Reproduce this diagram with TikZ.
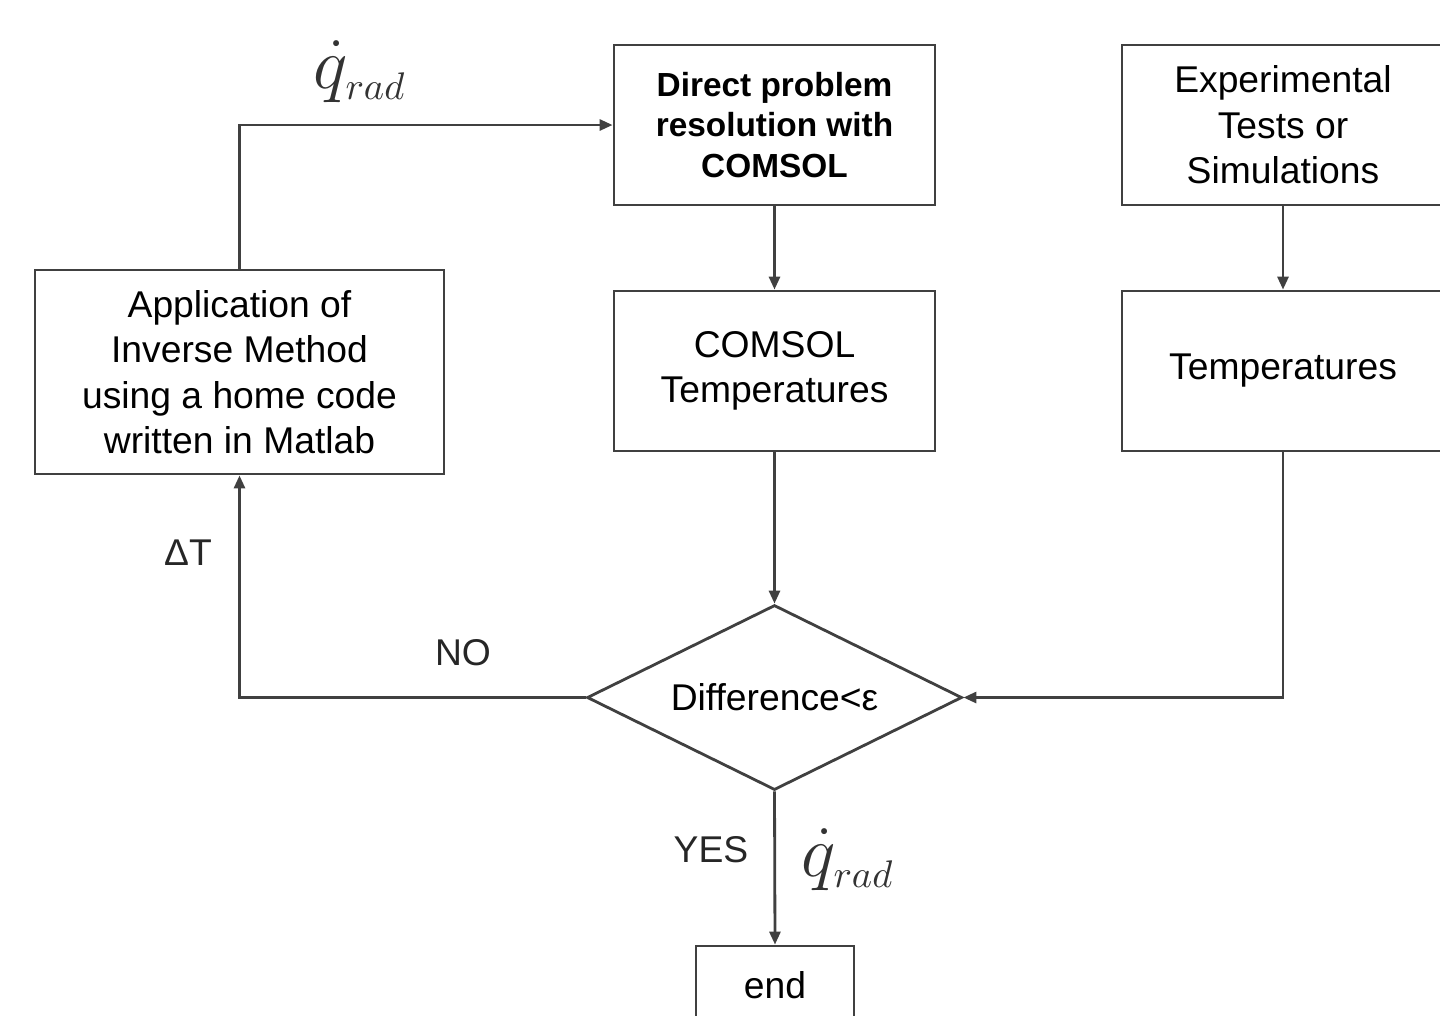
\documentclass[tikz,border=0pt]{standalone}
\usepackage{fontspec}
\setmainfont{Liberation Sans}
\usetikzlibrary{shapes.geometric,arrows.meta}

\begin{document}
\begin{tikzpicture}[
  line width=0.8pt, draw=black!75,
  box/.style={draw=black!75, rectangle, align=center, inner sep=0pt,
    font=\fontsize{10.6}{12.9}\selectfont},
  decision/.style={draw=black!75, diamond, aspect=2, inner sep=0pt,
    minimum width=3.75cm, minimum height=1.85cm,
    font=\fontsize{10.6}{12.9}\selectfont},
  arr/.style={draw=black!75, -{Triangle[length=1.3mm,width=1.1mm]}},
  lbl/.style={font=\fontsize{10.6}{12.9}\selectfont, text=black!85},
  flux/.style={font=\fontsize{21}{23}\selectfont, text=black!80}
]
\useasboundingbox (0,0) rectangle (14.4,-10.15);
\def\dx{0}
\def\dy{0}

\node[box, minimum width=3.21cm, minimum height=1.6cm,
  font=\fontsize{9.5}{11.4}\selectfont\bfseries] (direct) at (\dx + 7.745, \dy - 1.25) {Direct problem\\resolution with\\COMSOL};
\node[box, minimum width=3.21cm, minimum height=1.6cm] (comsolT) at (\dx + 7.745, \dy - 3.71) {COMSOL\\Temperatures};
\node[box, minimum width=3.22cm, minimum height=1.6cm] (exper) at (\dx + 12.83, \dy - 1.25) {Experimental\\Tests or\\Simulations};
\node[box, minimum width=3.22cm, minimum height=1.6cm] (temps) at (\dx + 12.83, \dy - 3.71) {Temperatures};
\node[box, minimum width=4.09cm, minimum height=2.04cm] (inverse) at (\dx + 2.395, \dy - 3.72) {Application of\\Inverse Method\\using a home code\\written in Matlab};
\node[decision] (diff) at (\dx + 7.745, \dy - 6.975) {Difference<ε};
\node[box, minimum width=1.58cm, minimum height=0.78cm] (end) at (\dx + 7.75, \dy - 9.85) {end};

\draw[arr] (direct) -- (comsolT);
\draw[arr] (exper) -- (temps);
\draw[arr] (comsolT) -- (diff);
\draw[arr] (temps.south) |- (diff.east);
\draw[arr] (diff.west) -| (inverse.south);
\draw[arr] (inverse.north) |- (direct.west);
\draw[arr] (diff.south) -- (end.north);

\node[flux] (qtop) at (3.6, -0.72) {$\dot{q}_{\scriptscriptstyle rad}$};
\node[lbl] (dT) at (1.88, -5.53) {ΔT};
\node[lbl] (no) at (4.63, -6.53) {NO};
\node[lbl] (yes) at (7.11, -8.5) {YES};
\node[flux] (qbot) at (8.48, -8.6) {$\dot{q}_{\scriptscriptstyle rad}$};
\end{tikzpicture}
\end{document}
